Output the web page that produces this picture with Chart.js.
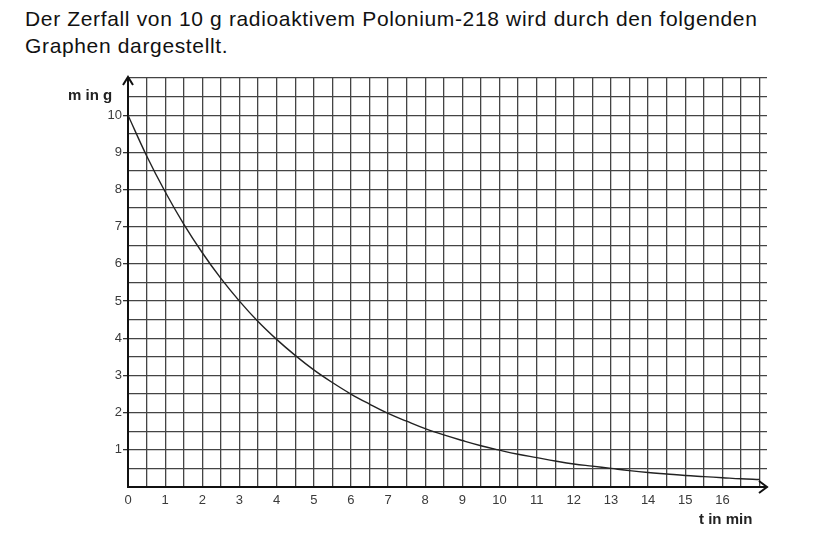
<!DOCTYPE html>
<html>
<head>
<meta charset="utf-8">
<script src="https://cdn.jsdelivr.net/npm/chart.js@4/dist/chart.umd.min.js"></script>
<style>
  html, body { margin: 0; padding: 0; background: #fff; }
  body { width: 819px; height: 544px; position: relative; overflow: hidden; font-family: "Liberation Sans", Arial, sans-serif; }
  #heading { position: absolute; left: 25px; top: 5px; font-size: 21px; line-height: 27px; color: #111; letter-spacing: 0.65px; white-space: nowrap; }
  .axis-title { position: absolute; font-weight: bold; font-size: 15px; line-height: 15px; color: #222; white-space: nowrap; }
  #wrap { position: absolute; left: 0; top: 0; width: 819px; height: 544px; }
</style>
</head>
<body>
<div id="heading">Der Zerfall von 10 g radioaktivem Polonium-218 wird durch den folgenden<br>Graphen dargestellt.</div>
<div id="wrap"><canvas id="chart"></canvas></div>
<div class="axis-title" style="left:68px; top:87px;">m in g</div>
<div class="axis-title" style="left:699px; top:511px;">t in min</div>
<script>
// time in minutes and remaining mass in gram
const tValues = [0, 0.5, 1, 1.5, 2, 2.5, 3, 3.5, 4, 4.5, 5, 5.5, 6, 6.5, 7, 7.5, 8, 8.5,
  9, 9.5, 10, 10.5, 11, 11.5, 12, 12.5, 13, 13.5, 14, 14.5, 15, 15.5, 16, 16.5, 17]
const mValues = [10.00, 8.91, 7.94, 7.07, 6.30, 5.61, 5.00, 4.45, 3.97, 3.54, 3.15, 2.81,
  2.50, 2.23, 1.98, 1.77, 1.57, 1.40, 1.25, 1.11, 0.99, 0.88, 0.79, 0.70, 0.62, 0.56,
  0.50, 0.44, 0.39, 0.35, 0.31, 0.28, 0.25, 0.22, 0.20]

const xTickLabels = ['0', '1', '2', '3', '4', '5', '6', '7', '8', '9', '10', '11', '12', '13', '14', '15', '16']
const yTickLabels = ['1', '2', '3', '4', '5', '6', '7', '8', '9', '10']
// grid lines every half unit
const xGrid = [0, 0.5, 1, 1.5, 2, 2.5, 3, 3.5, 4, 4.5, 5, 5.5, 6, 6.5, 7, 7.5, 8, 8.5,
  9, 9.5, 10, 10.5, 11, 11.5, 12, 12.5, 13, 13.5, 14, 14.5, 15, 15.5, 16, 16.5, 17]
const yGrid = [0, 0.5, 1, 1.5, 2, 2.5, 3, 3.5, 4, 4.5, 5, 5.5, 6, 6.5, 7, 7.5, 8, 8.5,
  9, 9.5, 10, 10.5, 11]

const points = tValues.map((t, i) => ({ x: t, y: mValues[i] }))

const labelFor = (list, v) => list.includes(String(v)) ? String(v) : ''

const arrows = {
  id: 'arrows',
  afterDraw(chart) {
    const ctx = chart.ctx
    const xs = chart.scales.x
    const ys = chart.scales.y
    const x0 = xs.getPixelForValue(0)
    const y0 = ys.getPixelForValue(0)
    ctx.save()
    ctx.strokeStyle = '#111'
    ctx.lineWidth = 2
    ctx.beginPath()
    // top arrow
    ctx.moveTo(x0 - 5, ys.top + 7)
    ctx.lineTo(x0, ys.top - 1)
    ctx.lineTo(x0 + 5, ys.top + 7)
    // right arrow
    ctx.moveTo(xs.right - 8, y0 - 6)
    ctx.lineTo(xs.right, y0)
    ctx.lineTo(xs.right - 8, y0 + 6)
    ctx.stroke()
    ctx.restore()
  }
}

new Chart(document.getElementById('chart'), {
  type: 'scatter',
  data: {
    datasets: [{
      data: points,
      showLine: true,
      borderColor: '#222',
      borderWidth: 1.4,
      pointRadius: 0,
      tension: 0.4,
      fill: false
    }]
  },
  options: {
    responsive: true,
    maintainAspectRatio: false,
    animation: false,
    layout: { padding: { left: 0, right: 52, top: 78, bottom: 27 } },
    plugins: { legend: { display: false }, tooltip: { enabled: false } },
    scales: {
      x: {
        type: 'linear',
        min: 0,
        max: 17.2,
        afterBuildTicks: (scale) => { scale.ticks = xGrid.map(v => ({ value: v })) },
        afterFit: (scale) => { scale.height = 30 },
        border: { display: true, color: '#111', width: 2 },
        grid: { color: '#444', lineWidth: 1.3, drawTicks: false },
        ticks: {
          autoSkip: false,
          maxRotation: 0,
          padding: 6,
          color: '#3a3a3a',
          font: { family: '"Liberation Sans", Arial, sans-serif', size: 13 },
          callback: (v) => labelFor(xTickLabels, v)
        }
      },
      y: {
        type: 'linear',
        min: 0,
        max: 11,
        afterBuildTicks: (scale) => { scale.ticks = yGrid.map(v => ({ value: v })) },
        afterFit: (scale) => { scale.width = 128 },
        border: { display: true, color: '#111', width: 2 },
        grid: {
          color: '#444',
          lineWidth: 1.3,
          tickLength: 5,
          tickColor: (c) => labelFor(yTickLabels, c.tick && c.tick.value) ? '#333' : 'rgba(0,0,0,0)'
        },
        ticks: {
          autoSkip: false,
          padding: 1,
          color: '#3a3a3a',
          font: { family: '"Liberation Sans", Arial, sans-serif', size: 13 },
          callback: (v) => labelFor(yTickLabels, v)
        }
      }
    }
  },
  plugins: [arrows]
})
</script>
</body>
</html>
